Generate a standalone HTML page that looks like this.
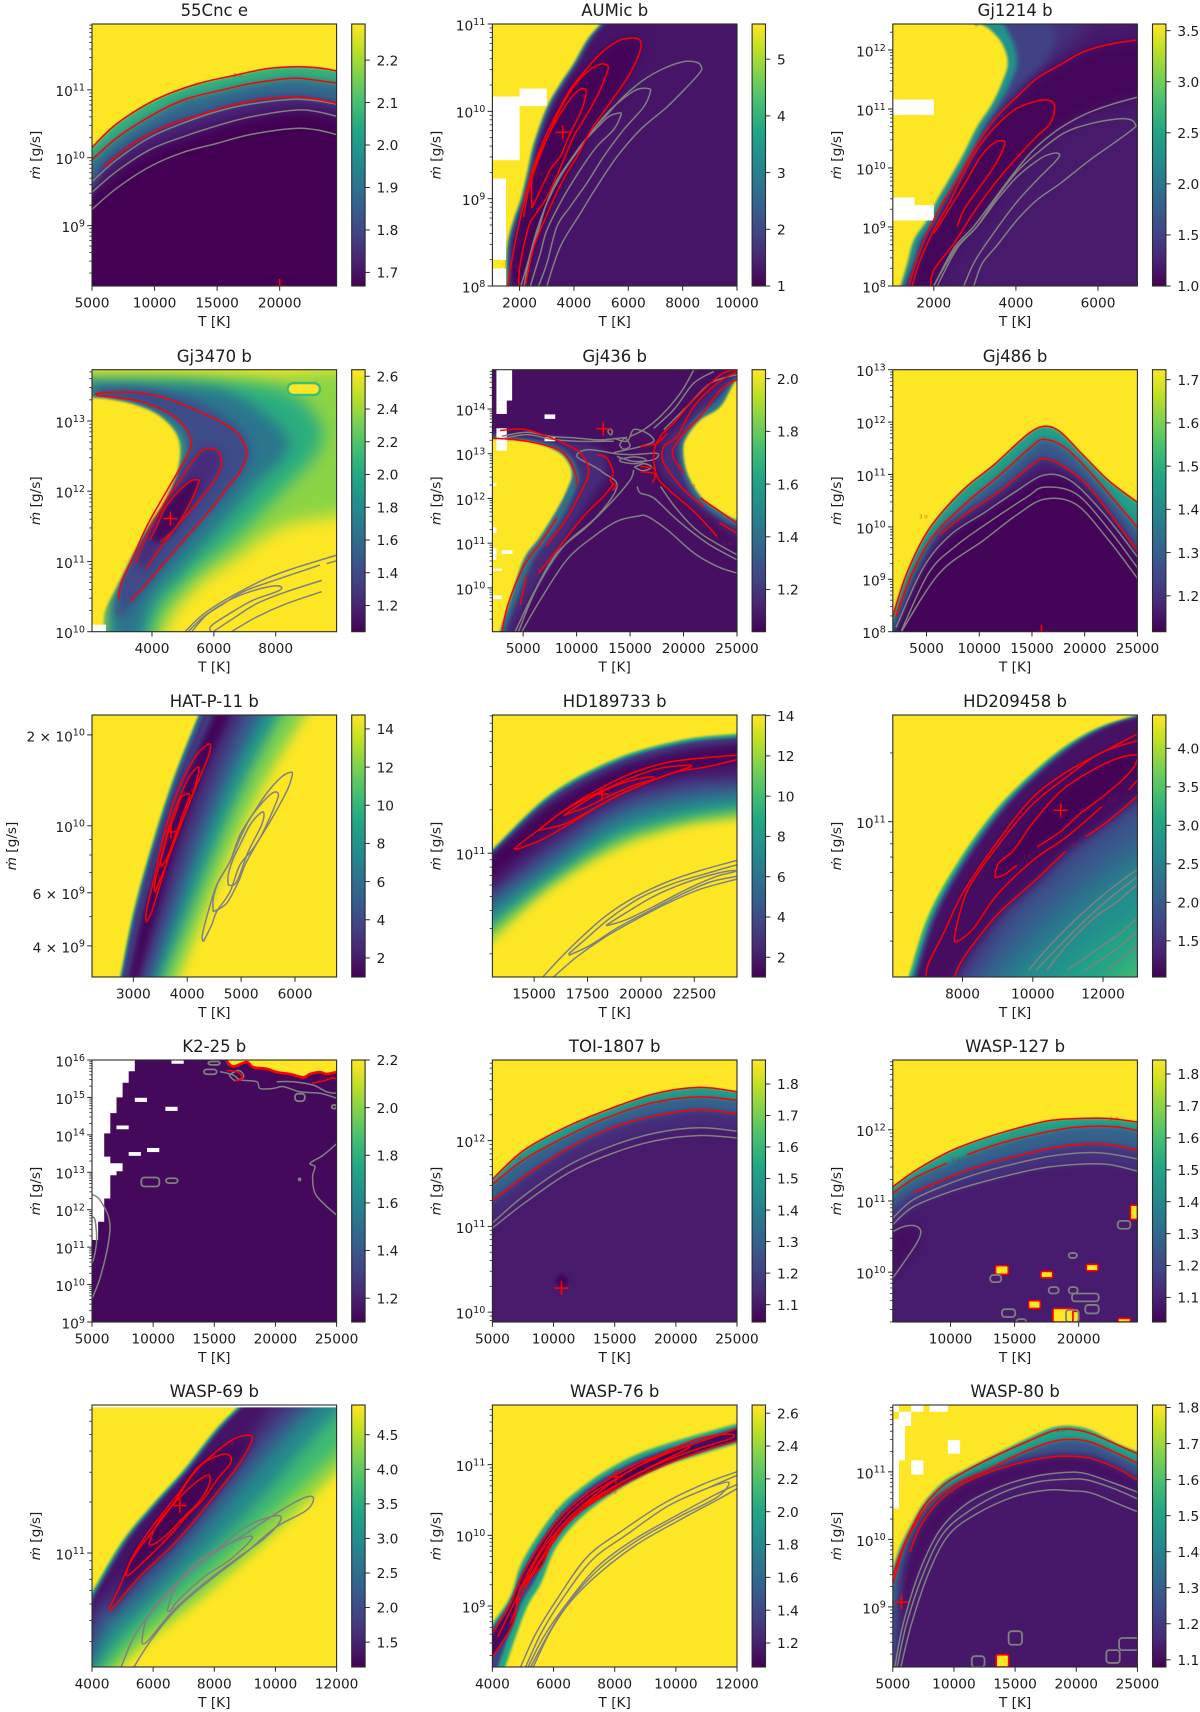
<!DOCTYPE html>
<html lang="en">
<head>
<meta charset="utf-8">
<title>Mass-loss rate vs temperature grid</title>
<style>
html,body{margin:0;padding:0;background:#fff}
svg{display:block}
text{font-family:"DejaVu Sans","Liberation Sans",sans-serif;fill:#1c1c1c}
</style>
</head>
<body>
<svg id="fig" xmlns="http://www.w3.org/2000/svg" width="1200" height="1712" viewBox="0 0 1200 1712"></svg>
<script>
// ---------- shape helpers (closure type only, no data generated) ----------
function under(pts,dT){return {mode:'under',pts:pts,dT:dT||0};}
function over(pts,dT){return {mode:'over',pts:pts,dT:dT||0};}
function poly(pts){return {mode:'poly',pts:pts,dT:0};}
function band(a,b){return {mode:'band',pts:a,pts2:b,dT:0};}
function loop(c){return c.concat([c[0]]);}
function zipT(ts,ls){return ts.map(function(t,i){return [t,ls[i]];});}

// ---------- 55Cnc e ----------
const cncX=[5000,24550],cncY=[8.11,11.97],cncV=[1.668,2.285];
const cncXT=[5000,10000,15000,20000];
const cncYT=[[1,11],[1,10],[1,9]];
const cncCT=[2.2,2.1,2.0,1.9,1.8,1.7];
const cncR3=[[5000,10.15],[6700,10.46],[8840,10.73],[10970,10.93],[13630,11.10],[16300,11.21],[18960,11.31],[21360,11.34],[23220,11.32],[24550,11.28]];
const cncR2=[[5000,9.97],[6970,10.29],[9640,10.61],[12300,10.85],[14960,10.98],[17630,11.09],[20290,11.16],[21620,11.17],[24550,11.10]];
const cncR1=[[5960,9.87],[8300,10.21],[10970,10.47],[13630,10.63],[16300,10.78],[18960,10.87],[21090,10.89],[22960,10.86],[24550,10.80]];
const cncR1Fill=[[5000,9.45]].concat(cncR1);
const cncG1=[[5000,9.65],[6970,9.97],[9640,10.30],[12300,10.51],[14960,10.68],[17630,10.79],[21090,10.86],[22960,10.84],[24550,10.79]];
const cncG2=[[5000,9.49],[6970,9.80],[9640,10.12],[12300,10.31],[14960,10.47],[17630,10.60],[21090,10.70],[22960,10.68],[24550,10.61]];
const cncG3=[[5000,9.24],[6970,9.55],[9640,9.87],[12300,10.08],[14960,10.21],[17630,10.34],[21090,10.43],[22960,10.41],[24550,10.34]];
const cncFillV=[2.07,1.87,1.73,1.668];
const cncFillSoft=[1.2,5,4,6];
const cncFillS=[under(cncR3),under(cncR2),under(cncR1Fill),under(cncG2)];
const cncBest=[20000,8.11];
const cncLabels=[[16640,11.22,'3 σ'],[12780,10.84,'2 σ'],[5480,9.73,'1 σ']];

// ---------- AUMic b ----------
const aumX=[1000,10000],aumY=[8,11],aumV=[1,5.62];
const aumXT=[2000,4000,6000,8000,10000];
const aumYT=[[1,11],[1,10],[1,9],[1,8]];
const aumCT=[5,4,3,2,1];
const aumEdge=[[1500,8],[1534,8.45],[1779,8.76],[2025,8.98],[2270,9.29],[2515,9.63],[3006,10.05],[3497,10.32],[3988,10.55],[4479,10.82],[4970,11]];
const aumR3=[[1558,8],[1718,8.30],[1902,8.60],[2209,9.02],[2515,9.37],[3006,9.75],[3497,10.05],[3926,10.28],[4479,10.49],[4970,10.66],[5583,10.80],[6074,10.84],[6417,10.82],[6442,10.70],[6074,10.44],[5583,10.21],[4970,9.94],[4601,9.77],[4110,9.48],[3558,9.19],[2761,8.64],[2454,8.37],[2209,8]];
const aumR2=[[1963,8],[2025,8.26],[2331,8.68],[2515,8.79],[3006,9.02],[3620,9.44],[3988,9.71],[4356,9.90],[4847,10.17],[5215,10.44],[5239,10.52],[4970,10.54],[4479,10.45],[3988,10.28],[3497,10.03],[3067,9.73],[2638,9.40],[2331,9.10],[2147,8.79]];
const aumR1=loop([[2454,8.89],[3129,9.33],[3497,9.48],[3865,9.75],[4233,9.98],[4454,10.21],[4356,10.26],[4049,10.21],[3620,10.03],[3252,9.84],[3006,9.69],[2638,9.44],[2454,9.21]]);
const aumG3=[[3006,8],[3497,8.45],[4233,8.83],[4847,9.14],[5583,9.48],[6442,9.79],[7423,10.05],[8160,10.28],[8650,10.45],[8687,10.51],[8528,10.56],[8037,10.57],[7301,10.49],[6564,10.36],[5828,10.17],[5215,9.96],[4601,9.75],[3988,9.48],[3497,9.25],[3006,8.95],[2638,8.64],[2331,8.30],[2049,8]];
const aumG2=[[2699,8],[3006,8.26],[3374,8.68],[3865,8.91],[4479,9.18],[5092,9.48],[5828,9.79],[6564,10.05],[6810,10.22],[6748,10.26],[6319,10.25],[5828,10.15],[5215,9.98],[4662,9.77],[3988,9.48],[3497,9.25],[3006,8.95],[2699,8.64],[2454,8.37],[2172,8]];
const aumG1=[[2393,8],[2761,8.37],[3006,8.64],[3620,9.02],[4233,9.33],[4847,9.60],[5460,9.79],[5730,9.96],[5644,9.98],[5276,9.94],[4847,9.81],[4356,9.65],[3865,9.44],[3374,9.21],[2945,8.91],[2638,8.60],[2294,8.22],[2172,8]];
const aumFillV=[1.04,1.7,3.0,5.62];
const aumFillSoft=[5,1.5,1.2,1];
const aumFillS=[poly(aumR3),over(aumEdge,200),over(aumEdge,90),over(aumEdge,0)];
const aumWhite=[[1000,9.44,2000,10.17],[2000,10.06,3000,10.26],[1000,8.30,1500,9.23],[1000,8,1500,8.2]];
const aumBest=[3583,9.76];
const aumLabels=[[2700,9.29,'1 σ'],[3130,8.95,'3 σ'],[1780,8.23,'2 σ']];

// ---------- Gj1214 b ----------
const g12X=[1000,6960],g12Y=[8,12.44],g12V=[1,3.565];
const g12XT=[2000,4000,6000];
const g12YT=[[1,12],[1,11],[1,10],[1,9],[1,8]];
const g12CT=[3.5,3.0,2.5,2.0,1.5,1.0];
const g12Edge=[[1189,8],[1351,8.38],[1513,8.78],[1838,9.12],[2081,9.46],[2406,9.85],[2730,10.25],[3055,10.70],[3379,11.04],[3623,11.38],[3801,11.77],[3663,12.11],[3379,12.34],[3136,12.44]];
const g12GlowA=[[1270,8],[1513,8.44],[1675,8.78],[2000,9.12],[2243,9.46],[2568,9.85],[2892,10.25],[3217,10.70],[3542,11.04],[3826,11.38],[4029,11.77],[3947,12.11],[3704,12.44]];
const g12GlowB=[[1351,8],[1594,8.44],[1757,8.78],[2081,9.12],[2325,9.46],[2649,9.85],[2974,10.25],[3339,10.70],[3704,11.04],[4110,11.38],[4677,11.77],[4921,12.11],[4921,12.44]];
const g12GlowC=[[3000,10.7],[4029,11.4],[5000,11.9],[5700,12.44],[5700,13.5],[1500,13.5],[1500,10.7]];
const g12R3=[[1391,8],[1554,8.38],[1838,8.89],[2162,9.34],[2568,9.80],[2974,10.31],[3461,10.81],[4029,11.21],[4515,11.52],[5083,11.75],[5651,11.97],[6300,12.10],[6958,12.17]];
const g12R2=[[1473,8],[1635,8.38],[2000,8.95],[2325,9.34],[2730,9.91],[3055,10.31],[3461,10.67],[3947,10.98],[4434,11.12],[4799,11.15],[4945,11.04],[4840,10.76],[4515,10.54],[4029,10.18],[3501,9.75],[3014,9.29],[2771,9.03],[2487,8.72],[2000,8.27],[1919,8]];
const g12R1=[[2000,8.89],[2406,9.34],[2811,9.80],[3136,10.19],[3461,10.42],[3688,10.46],[3720,10.39],[3542,10.11],[3298,9.85],[3014,9.58],[2730,9.29],[2568,9.01]];
const g12GA=[[2000,8],[2487,8.64],[2974,9.01],[3461,9.46],[3947,9.91],[4434,10.31],[5002,10.64],[5651,10.90],[6300,11.07],[6958,11.20]];
const g12GB=[[2081,8],[2568,8.64],[3055,9.01],[3542,9.51],[4029,9.94],[4515,10.25],[5164,10.59],[5813,10.75],[6463,10.83],[6787,10.82],[6909,10.74],[6868,10.67],[6381,10.42],[5813,10.14],[5083,9.74],[4515,9.46],[4029,9.12],[3542,8.69],[3177,8.38],[2974,8]];
const g12GC=[[2730,8],[3014,8.44],[3542,8.98],[4029,9.43],[4515,9.80],[4921,10.08],[5067,10.22],[4921,10.25],[4596,10.16],[4029,9.85],[3542,9.46],[3055,9.01],[2568,8.67],[2162,8.21],[2000,8]];
const g12FillV=[1.36,1.04,1.5,2.3,3.565];
const g12FillSoft=[9,6,4,2.5,1.2];
const g12FillS=[poly(g12GlowC),band(g12R3,g12GA),over(g12GlowB),over(g12GlowA),over(g12Edge)];
const g12White=[[1000,10.90,2000,11.16],[1000,9.37,1530,9.50],[1000,9.11,2000,9.37]];
const g12Labels=[[2280,9.46,'3']];

// ---------- Gj3470 b ----------
const g34X=[2060,9970],g34Y=[10,13.73],g34V=[1.04,2.64];
const g34XT=[4000,6000,8000];
const g34YT=[[1,13],[1,12],[1,11],[1,10]];
const g34CT=[2.6,2.4,2.2,2.0,1.8,1.6,1.4,1.2];
const g34L25=[[1200,13.65],[4474,13.68],[7708,13.65],[11000,13.58],[11000,11.92],[8247,11.5],[6630,11.02],[5552,10.69],[4474,10.12],[4000,9.3],[2500,9.3],[2426,10.12],[2534,10.36],[2911,10.69],[3396,11.12],[3935,11.54],[4367,11.83],[4798,12.25],[4905,12.63],[4690,12.87],[4151,13.09],[3396,13.23],[2642,13.30],[1200,13.32]];
const g34L22=[[1200,13.58],[5552,13.57],[8247,13.44],[9433,12.97],[9325,12.54],[8247,12.02],[6630,11.31],[5337,10.83],[4151,10.21],[3600,9.3],[2650,9.3],[2534,10.21],[2803,10.55],[3235,10.97],[3774,11.45],[4259,11.78],[4690,12.21],[4798,12.63],[4636,12.82],[4097,13.06],[3342,13.2],[2642,13.28],[1200,13.34]];
const g34L18=[[1200,13.54],[5552,13.49],[7169,13.25],[8355,12.78],[8247,12.49],[7385,12.11],[6091,11.45],[4798,10.83],[3935,10.36],[3300,9.3],[2750,9.3],[2696,10.31],[2965,10.62],[3342,11.02],[3881,11.47],[4367,11.83],[4798,12.21],[4959,12.63],[4690,12.85],[4151,13.04],[3396,13.18],[2642,13.28],[1200,13.35]];
const g34L15=[[2210,13.47],[3935,13.44],[5552,13.25],[6846,12.87],[7115,12.54],[6630,12.11],[5552,11.59],[4474,11.02],[3612,10.55],[3073,10.21],[2803,10.31],[3019,10.64],[3504,11.12],[4043,11.54],[4528,11.92],[5013,12.25],[5250,12.63],[5013,12.92],[4367,13.13],[3396,13.28],[2210,13.35]];
const g34Blob=[[1200,13.33],[2000,13.33],[2642,13.31],[3396,13.24],[4151,13.10],[4690,12.88],[4905,12.63],[4798,12.25],[4367,11.83],[3935,11.54],[3396,11.12],[2911,10.69],[2534,10.36],[2426,10.12],[2400,9.3],[1200,9.3]];
const g34R3=[[2911,10.46],[3019,10.71],[3396,11.07],[3828,11.50],[4367,11.92],[4798,12.25],[5175,12.54],[5250,12.73],[5013,12.94],[4474,13.13],[3612,13.28],[2750,13.34],[2264,13.36],[2232,13.39],[2750,13.41],[3612,13.40],[4474,13.32],[5552,13.13],[6415,12.94],[6846,12.78],[7062,12.54],[6846,12.28],[6415,12.04],[5876,11.73],[5121,11.35],[4474,11.02],[3828,10.69],[3288,10.43]];
const g34R2=[[3806,10.89],[4151,11.12],[4798,11.50],[5552,11.88],[6091,12.21],[6253,12.40],[6145,12.56],[5854,12.61],[5552,12.56],[5175,12.33],[4798,12.09],[4474,11.88],[4097,11.59],[3720,11.26],[3450,10.97]];
const g34R1=[[4280,11.28],[4798,11.50],[5283,11.88],[5498,12.11],[5498,12.16],[5229,12.14],[4798,11.97],[4420,11.76],[4151,11.50],[3935,11.31]];
const g34G1=[[5067,10],[5552,10.21],[6091,10.38],[6846,10.57],[7708,10.76],[8571,10.90],[9972,11.09]];
const g34G2=[[5175,10],[5660,10.21],[6253,10.38],[6954,10.57],[7816,10.71],[9433,10.95]];
const g34G2b=[[9649,10.97],[9972,11.01]];
const g34G3=[[5283,10],[5768,10.24],[6415,10.43],[7169,10.57],[7924,10.65],[8193,10.63],[8032,10.57],[7277,10.45],[6630,10.29],[5930,10.09],[5900,10]];
const g34G4=[[5983,10],[6630,10.19],[7385,10.40],[8355,10.57],[9487,10.73]];
const g34G5=[[6576,10],[7385,10.21],[8355,10.40],[9487,10.57]];
const g34FillV=[2.36,2.04,1.66,1.44,1.40,1.24,1.07,2.64];
const g34FillSoft=[8,8,7,5,3,4,3,1.2];
const g34FillS=[poly(g34L25),poly(g34L22),poly(g34L18),poly(g34L15),poly(g34R3),poly(g34R2),poly(g34R1),poly(g34Blob)];
const g34White=[[2060,10,2510,10.10]];
const g34Rings=[[8385,13.37,9433,13.54]];
const g34Best=[4593,11.61];
const g34Labels=[[3957,11.13,'1 σ'],[3483,10.75,'2 σ'],[2965,10.27,'3 σ']];

// ---------- Gj436 b ----------
const g43X=[2125,25000],g43Y=[9.02,14.88],g43V=[1.04,2.034];
const g43XT=[5000,10000,15000,20000,25000];
const g43YT=[[1,14],[1,13],[1,12],[1,11],[1,10]];
const g43CT=[2.0,1.8,1.6,1.4,1.2];
const g43LY=[[2844,8.6],[2844,9.02],[3781,9.73],[5031,10.63],[6594,11.15],[8156,11.75],[9094,12.19],[9562,12.57],[8781,12.94],[7219,13.16],[5344,13.28],[3469,13.31],[2125,13.33],[1200,13.33],[1200,8.6]];
const g43L14=[[3312,8.6],[3312,9.02],[4406,9.73],[5969,10.63],[7531,11.15],[9094,11.75],[10031,12.27],[10187,12.57],[9250,12.98],[7531,13.22],[5344,13.33],[2125,13.40],[1200,13.40],[1200,8.6]];
const g43L12=[[4094,8.6],[4094,9.02],[5500,9.73],[8156,10.78],[11281,11.97],[12844,12.57],[12219,13.09],[9094,13.31],[5344,13.39],[2125,13.46],[1200,13.46],[1200,8.6]];
const g43RY=[[26500,14.66],[25000,14.66],[23469,14.06],[21594,13.76],[20344,13.39],[19969,13.09],[20344,12.57],[21594,12.05],[23156,11.75],[25000,11.52],[26500,11.52]];
const g43R14=[[26500,14.73],[25000,14.73],[23156,14.21],[21281,13.84],[20031,13.46],[19562,13.09],[20031,12.49],[21281,11.97],[23156,11.60],[25000,11.37],[26500,11.37]];
const g43R12=[[26500,14.84],[25000,14.84],[22531,14.43],[20031,13.76],[18156,13.31],[17844,12.64],[20031,12.05],[23156,11.49],[25000,11.15],[26500,11.15]];
const g43Red1=[[3000,9.02],[3625,9.66],[5031,10.48],[6594,11],[8156,11.56]];
const g43Red2=[[4719,9.62],[5344,10.29]];
const g43Red3=[[7156,10.94],[8781,11.45],[10031,11.97],[11125,12.57],[10500,12.98],[9094,13.20],[7219,13.39],[5031,13.55],[2844,13.52]];
const g43Red4=[[2125,13.35],[4406,13.31],[6906,13.20],[8781,13.01],[9875,12.57],[9969,12.27]];
const g43Red5=[[6437,10.33],[8156,10.85],[10656,11.60],[12531,12.05],[13469,12.34]];
const g43Red6=[[25000,11.45],[23156,11.75],[21594,12.01]];
const g43Red7=[[20031,12.57],[18937,13.01],[20031,13.46],[21594,13.84],[23469,14.43],[25000,14.66]];
const g43Red8=[[25000,11.22],[23312,11.46]];
const g43Red9=[[21906,11.82],[20031,12.19],[18156,12.79],[18156,13.16],[19406,13.39],[20969,14.06],[23156,14.58],[25000,14.84]];
const g43Red10=[[23156,11.15],[20969,11.71],[18781,12.16],[17531,12.49],[17219,13.01],[17844,13.39],[19094,13.69],[20656,14.13],[23469,14.77],[25000,14.87]];
const g43Red11=[[13469,12.57],[12844,12.9],[11906,12.98]];
const g43Red12=[[15969,12.72],[17219,12.68]];
const g43Red13=[[15969,13.16],[17531,13.24],[18469,13.46]];
const g43Red14=[[13500,12.55],[13150,12.4],[13700,12.28],[13300,12.18]];
const g43Red15=[[16000,12.6],[17300,12.55],[17100,12.35]];
const g43Gr1=[[4875,9.02],[6594,9.73],[9094,10.63],[11594,11.15],[13781,11.49],[15656,11.6],[16594,11.6],[18469,11.30],[20969,10.78],[23156,10.48],[25000,10.33]];
const g43Gr2=[[4250,9.02],[5969,9.88],[8156,10.78],[10969,11.37],[13469,11.97],[15031,12.42],[15344,12.64]];
const g43Gr3=[[15656,12.27],[15969,12.12],[17219,12.01],[19406,11.52],[22219,11],[25000,10.63]];
const g43Gr4=[[4562,9.02],[6281,10],[8781,10.93],[11906,11.6],[13781,12.27],[12531,12.57],[11594,12.72],[10031,12.94],[10969,13.09],[13469,13.01]];
const g43Gr5=[[17844,12.27],[19406,11.75],[21594,11.22],[25000,10.74]];
const g43Gr6=[[3000,13.39],[5344,13.48],[7531,13.39],[10031,13.35],[12219,13.31],[14719,13.37]];
const g43Gr7=[[3000,13.33],[5344,13.43],[7531,13.33],[10031,13.28],[13469,13.28]];
const g43Gr8=[[20969,14.88],[19719,14.36],[17844,13.84],[16281,13.54],[15031,13.39]];
const g43Gr9=[[22844,14.84],[20969,14.58],[19094,13.99],[17219,13.57]];
const g43Gr10=[[25000,14.77],[22531,14.58],[20344,14.06],[18156,13.54]];
const g43Gr11=[[13469,13.35],[14719,13.28],[15344,13.54],[16594,13.46],[17219,13.28],[15969,13.16],[14719,13.09],[13469,13.01],[15344,12.98],[17531,13.01],[17219,12.87],[15344,12.83],[13781,12.94]];
const g43Gr12=loop([[14000,12.88],[15500,12.93],[16500,12.86],[15500,12.78],[14200,12.82]]);
const g43Gr13=loop([[15400,12.7],[16300,12.78],[17000,12.7],[16200,12.62]]);
const g43Gr14=loop([[14000,13.2],[14500,13.35],[15000,13.18],[14400,13.1]]);
const g43Gr15=loop([[12900,13.5],[13200,13.42],[13350,13.5],[13100,13.56]]);
const g43FillV=[1.16,1.16,1.42,1.42,2.034,2.034];
const g43FillSoft=[4,4,2,2,1,1];
const g43FillS=[poly(g43L12),poly(g43R12),poly(g43L14),poly(g43R14),poly(g43LY),poly(g43RY)];
const g43White=[[2500,14.19,3969,14.88],[2500,13.89,3470,14.19],[2500,13.07,3470,13.57],[7000,13.78,8000,13.88],[7000,13.28,8000,13.37],[2125,12.28,2500,12.34],[2125,11.22,2500,11.36],[2125,10.63,2500,10.89],[3000,10.76,4000,10.84],[2125,10.38,3000,10.43],[2125,9.75,3000,9.83]];
const g43Best=[12500,13.56];
const g43Labels=[[5200,13.39,'2 σ'],[9030,11.86,'3 σ'],[6219,10.65,'2 σ'],[20700,12.29,'3 σ'],[22375,11.63,'2 σ'],[24100,11,'1 σ']];

// ---------- Gj486 b ----------
const g48X=[1800,25000],g48Y=[8,13],g48V=[1.117,1.723];
const g48XT=[5000,10000,15000,20000,25000];
const g48YT=[[1,13],[1,12],[1,11],[1,10],[1,9],[1,8]];
const g48CT=[1.7,1.6,1.5,1.4,1.3,1.2];
const g48R3=[[1800,8.29],[3135,9.12],[5207,9.95],[8315,10.68],[11423,11.19],[14531,11.76],[16189,11.92],[17639,11.82],[19711,11.40],[22301,10.88],[25000,10.47]];
const g48R2=[[2100,8.29],[3653,9.12],[5725,9.85],[8833,10.47],[11941,10.99],[15049,11.55],[16189,11.67],[18157,11.51],[20747,10.99],[25000,9.99]];
const g48R1=[[6243,9.85],[8833,10.26],[11941,10.68],[15049,11.19],[16189,11.30],[18157,11.13],[20747,10.68],[25000,9.54]];
const g48R1Fill=[[2500,8],[4200,9.0]].concat(g48R1);
const g48G1=[[2100,8.08],[4689,9.22],[7279,9.85],[10387,10.26],[13495,10.68],[16189,10.99],[18675,10.88],[21783,10.26],[25000,9.43]];
const g48G2=[[2617,8.02],[5207,9.12],[7797,9.64],[11423,10.16],[14531,10.57],[16189,10.76],[19193,10.63],[22301,9.95],[25000,9.22]];
const g48G3=[[2617,8],[6243,9.12],[10387,9.74],[13495,10.22],[16189,10.53],[19193,10.43],[22301,9.74],[25000,9.02]];
const g48FillV=[1.46,1.28,1.17,1.122];
const g48FillSoft=[1.2,4,4,5];
const g48FillS=[under(g48R3),under(g48R2),under(g48R1Fill),under(g48G1)];
const g48Best=[15900,8];
const g48Labels=[[4700,10.2,'3 σ']];

// ---------- HAT-P-11 b ----------
const hatX=[2233,6772],hatY=[9.499,10.367],hatV=[1,14.73];
const hatXT=[3000,4000,5000,6000];
const hatYT=[[2,10],[1,10],[6,9],[4,9]];
const hatCT=[14,12,10,8,6,4,2];
const hatLogs=[9.499,9.715,9.936,10.157,10.367];
const hatLY=[2753,3000,3340,3742,4205];
const hatL125=[2765,3019,3358,3760,4224], hatR125=[3834,4329,4854,5472,6183];
const hatL9=[2784,3037,3383,3791,4267], hatR9=[3556,4050,4545,5101,5719];
const hatL6=[2815,3074,3420,3834,4310], hatR6=[3371,3803,4267,4792,5379];
const hatL35=[2864,3124,3482,3896,4390], hatR35=[3216,3618,4050,4545,5070];
const hatL18=[2938,3198,3569,3989,4514], hatR18=[3093,3463,3834,4298,4823];
const hatL11=[2969,3247,3618,4038,4557], hatR11=[3031,3371,3729,4174,4700];
const hatFillV=[12,8,5,3,1.5,1.05,2.6,5,9,14.73];
const hatFillSoft=[6,6,5,5,4,3,1.5,1.2,1.2,1];
const hatFillS=[
 band(zipT(hatL125,hatLogs),zipT(hatR125,hatLogs)),
 band(zipT(hatL9,hatLogs),zipT(hatR9,hatLogs)),
 band(zipT(hatL6,hatLogs),zipT(hatR6,hatLogs)),
 band(zipT(hatL35,hatLogs),zipT(hatR35,hatLogs)),
 band(zipT(hatL18,hatLogs),zipT(hatR18,hatLogs)),
 band(zipT(hatL11,hatLogs),zipT(hatR11,hatLogs)),
 over(zipT(hatL35,hatLogs)),over(zipT(hatL6,hatLogs)),over(zipT(hatL125,hatLogs)),over(zipT(hatLY,hatLogs))];
const hatR3=loop([[3247,9.682],[3340,9.715],[3494,9.803],[3680,9.914],[3927,10.024],[4174,10.135],[4390,10.229],[4434,10.267],[4360,10.267],[4174,10.234],[3958,10.168],[3773,10.091],[3618,10.002],[3494,9.914],[3371,9.814],[3278,9.748],[3229,9.699]]);
const hatR2=loop([[3402,9.781],[3556,9.848],[3742,9.936],[3927,10.024],[4112,10.113],[4217,10.184],[4174,10.192],[4020,10.157],[3865,10.096],[3711,10.024],[3587,9.947],[3482,9.870],[3389,9.803]]);
const hatR1=loop([[3525,9.864],[3649,9.903],[3803,9.980],[3958,10.057],[4050,10.102],[3896,10.096],[3773,10.036],[3649,9.980],[3556,9.914],[3507,9.881]]);
const hatG3=loop([[4298,9.616],[4452,9.671],[4545,9.715],[4792,9.781],[4978,9.870],[5225,9.925],[5534,10.013],[5843,10.113],[5948,10.168],[5905,10.177],[5719,10.157],[5472,10.107],[5225,10.041],[4978,9.969],[4792,9.881],[4545,9.803],[4390,9.715],[4279,9.638]]);
const hatG2=loop([[4483,9.715],[4730,9.743],[4947,9.814],[5101,9.881],[5410,9.980],[5657,10.080],[5688,10.107],[5596,10.110],[5410,10.080],[5163,10.024],[4978,9.958],[4792,9.881],[4576,9.814],[4483,9.759]]);
const hatG1=loop([[4761,9.803],[4916,9.814],[5132,9.914],[5379,10.002],[5423,10.041],[5348,10.041],[5163,10.002],[5008,9.947],[4854,9.891],[4761,9.837]]);
const hatBest=[3698,9.98];
const hatLabels=[[3980,10.11,'3 σ'],[3520,9.83,'3 σ']];

// ---------- HD189733 b ----------
const h18X=[13047,24500],h18Y=[10.14,11.96],h18V=[1.02,14.03];
const h18XT=[15000,17500,20000,22500];
const h18YT=[[1,11]];
const h18CT=[14,12,10,8,6,4,2];
const h18Nodes=[13047,15750,18875,22000,24500];
const h18U135=[11.03,11.41,11.66,11.79,11.83], h18D135=[10.39,10.76,11.03,11.19,11.24];
const h18U11=[11.03,11.40,11.65,11.78,11.82], h18D11=[10.48,10.80,11.09,11.23,11.29];
const h18U75=[11.02,11.39,11.64,11.77,11.81], h18D75=[10.57,10.87,11.17,11.31,11.36];
const h18U45=[11.01,11.38,11.63,11.76,11.80], h18D45=[10.68,10.96,11.28,11.41,11.45];
const h18U25=[11.00,11.36,11.61,11.74,11.78], h18D25=[10.75,11.06,11.36,11.50,11.52];
const h18U12=[10.99,11.32,11.57,11.69,11.74], h18D12=[10.84,11.17,11.45,11.57,11.63];
const h18FillV=[12,8.5,6,3.5,2,1.1,2.6,5,9,14.03];
const h18FillSoft=[5,6,6,6,5,5,2,1.5,1.2,1];
const h18FillS=[
 band(zipT(h18Nodes,h18U135),zipT(h18Nodes,h18D135)),
 band(zipT(h18Nodes,h18U11),zipT(h18Nodes,h18D11)),
 band(zipT(h18Nodes,h18U75),zipT(h18Nodes,h18D75)),
 band(zipT(h18Nodes,h18U45),zipT(h18Nodes,h18D45)),
 band(zipT(h18Nodes,h18U25),zipT(h18Nodes,h18D25)),
 band(zipT(h18Nodes,h18U12),zipT(h18Nodes,h18D12)),
 over(zipT(h18Nodes,h18U25)),over(zipT(h18Nodes,h18U45)),over(zipT(h18Nodes,h18U75)),over(zipT(h18Nodes,h18U135))];
const h18R3=[[24500,11.68],[22781,11.66],[21219,11.63],[19656,11.56],[18094,11.45],[16531,11.31],[15281,11.17],[14219,11.05],[14219,11.03],[15438,11.10],[16844,11.22],[18406,11.36],[19969,11.47],[21531,11.56],[23094,11.60],[24500,11.65]];
const h18R2=loop([[15203,11.16],[16063,11.26],[17156,11.36],[18406,11.45],[19656,11.53],[20906,11.59],[22156,11.61],[22313,11.60],[21531,11.56],[20281,11.49],[19031,11.41],[17781,11.31],[16531,11.21],[15594,11.17]]);
const h18R1=loop([[16375,11.26],[17156,11.34],[18094,11.42],[19188,11.49],[20438,11.53],[20516,11.51],[19656,11.47],[18406,11.39],[17469,11.32],[16688,11.28]]);
const h18G1=[[15406,10.14],[16219,10.27],[17313,10.43],[18406,10.57],[19656,10.69],[21219,10.80],[22781,10.88],[24500,10.95]];
const h18G2=[[16609,10.30],[17469,10.41],[18563,10.55],[19969,10.69],[21531,10.79],[23094,10.86],[24500,10.92]];
const h18G2b=[[16609,10.29],[17625,10.36],[18875,10.48],[20281,10.59],[21844,10.71],[23250,10.80],[24500,10.84]];
const h18G3=loop([[18375,10.50],[19344,10.59],[20594,10.70],[21999,10.79],[23563,10.86],[24344,10.88],[24344,10.87],[23563,10.84],[22156,10.75],[20594,10.63],[19344,10.54],[18484,10.50]]);
const h18G4=[[15906,10.14],[17000,10.28],[18250,10.41],[19656,10.53],[21219,10.65],[22781,10.75],[24500,10.82]];
const h18Best=[18172,11.41];
const h18Labels=[[16000,11.18,'3 σ'],[17000,11.3,'2 σ'],[18700,11.41,'1 σ']];

// ---------- HD209458 b ----------
const h20X=[6015,12978],h20Y=[10.32,11.467],h20V=[1.03,4.433];
const h20XT=[8000,10000,12000];
const h20YT=[[1,11]];
const h20CT=[4.0,3.5,3.0,2.5,2.0,1.5];
const h20Edge=[[6461,10.32],[7031,10.591],[7934,10.839],[8979,11.058],[10024,11.219],[10974,11.336],[11924,11.416],[12978,11.467]];
const h20L15=[[7744,10.32],[9074,10.606],[10024,10.737],[10974,10.898],[11924,11.015],[12978,11.117]];
const h20L18=[[8314,10.32],[9454,10.577],[10499,10.737],[11544,10.883],[12978,11.044]];
const h20L22=[[8694,10.32],[9929,10.533],[10974,10.679],[12114,10.825],[12978,10.912]];
const h20L26=[[9454,10.32],[10594,10.489],[11734,10.65],[12978,10.796]];
const h20L30=[[10784,10.32],[11639,10.445],[12978,10.591]];
const h20L33=[[12209,10.32],[12978,10.431]];
const h20R3a=[[6955,10.32],[7031,10.38],[7459,10.511],[8029,10.693],[9026,10.919],[9976,11.102],[10974,11.219],[12114,11.314],[12978,11.384]];
const h20R3b=[[7772,10.32],[8029,10.404],[8979,10.591],[10024,10.737],[10926,10.869]];
const h20R3c=[[11496,10.934],[12114,10.999],[12978,11.112]];
const h20R3Fill=h20R3b.concat(h20R3c);
const h20R2a=[[7763,10.489],[7934,10.606],[8219,10.721],[9026,10.899],[9976,11.073],[10974,11.197],[11924,11.30],[12978,11.355]];
const h20R2b=[[7763,10.489],[7838,10.474],[8314,10.533],[8979,10.679],[10024,10.833],[10974,10.934],[11971,11.066]];
const h20R2c=[[12731,11.139],[12978,11.182]];
const h20R1=[[8912,10.755],[9026,10.818],[9454,10.876],[10024,11.0],[10784,11.131],[11544,11.212],[12399,11.277],[12921,11.292],[12978,11.274],[12779,11.219],[12114,11.124],[11354,11.036],[10784,10.956],[10119,10.89]];
const h20R1b=[[9549,10.81],[9169,10.766],[8912,10.755]];
const h20G1=[[9881,10.35],[10499,10.46],[11259,10.577],[12114,10.693],[12978,10.792]];
const h20G2=[[10100,10.35],[10689,10.445],[11544,10.577],[12304,10.679],[12978,10.759]];
const h20G3=[[10404,10.35],[10974,10.46],[11734,10.577],[12399,10.65],[12978,10.726]];
const h20G4=[[10974,10.35],[11734,10.431],[12494,10.511],[12978,10.58]];
const h20G5=[[11496,10.35],[12209,10.423],[12978,10.518]];
const h20G6=[[12095,10.35],[12494,10.394],[12978,10.46]];
const h20FillV=[3.1,1.9,1.2,1.7,1.95,2.3,2.7,3.0,3.3,1.14,1.04];
const h20FillSoft=[1,1,1.5,8,8,8,8,8,8,5,5];
const h20FillS=[under(h20Edge,0),under(h20Edge,120),under(h20Edge,230),under(h20L15),under(h20L18),under(h20L22),under(h20L26),under(h20L30),under(h20L33),band(h20R3a,h20R3Fill),poly(h20R1)];
const h20Best=[10793,11.05];
const h20Labels=[[12446,11.35,'3 σ'],[12256,11.10,'2 σ'],[11211,10.90,'3 σ'],[9834,10.85,'1 σ']];

// ---------- K2-25 b ----------
const k2X=[5000,25000],k2Y=[9,16],k2V=[1.10,2.2];
const k2XT=[5000,10000,15000,20000,25000];
const k2YT=[[1,16],[1,15],[1,14],[1,13],[1,12],[1,11],[1,10],[1,9]];
const k2CT=[2.2,2.0,1.8,1.6,1.4,1.2];
const k2Yellow=[[16009,16.8],[16009,16],[16554,15.84],[17644,15.96],[18189,15.82],[19279,15.78],[20097,15.69],[21187,15.64],[22277,15.55],[22822,15.64],[23639,15.69],[24184,15.64],[25000,15.69],[27000,15.69],[27000,16.8]];
const k2FillV=[2.2];
const k2FillSoft=[0.8];
const k2FillS=[poly(k2Yellow)];
const k2WhitePoly=[[5000,16],[8500,16],[8500,15.70],[8000,15.70],[8000,15.39],[7500,15.39],[7500,15.0],[7000,15.0],[7000,14.58],[6500,14.58],[6500,14.04],[6000,14.04],[6000,13.42],[6500,13.42],[6500,13.24],[7500,13.24],[7500,13.03],[7000,13.03],[7000,12.92],[6500,12.92],[6500,12.30],[6000,12.30],[6000,11.68],[5500,11.68],[5500,11.19],[5000,11.19]];
const k2White=[[8500,14.88,9500,14.99],[11000,14.64,12000,14.75],[7000,14.15,8000,14.25],[9500,13.54,10500,13.65],[8000,13.44,9000,13.54],[11500,15.9,12500,16]];
const k2RedEdge=[[16009,16],[16554,15.84],[17644,15.96],[18189,15.82],[19279,15.78],[20097,15.69],[21187,15.64],[22277,15.55],[22822,15.64],[23639,15.69],[24184,15.64],[25000,15.69]];
const k2RedEdge2=[[16009,15.97],[16554,15.81],[17644,15.93],[18189,15.79],[19279,15.75],[20097,15.66],[21187,15.61],[22277,15.52],[22822,15.61],[23639,15.66],[24184,15.61],[25000,15.66]];
const k2RedBits=[[16000,15.72],[16900,15.68],[17300,15.5],[16700,15.45]];
const k2RedBits2=[[23000,15.38],[24000,15.45],[24600,15.52],[25000,15.5]];
const k2G1=[[25000,13.76],[23912,13.46],[22822,13.24],[23230,13.15],[23040,12.88],[23230,12.44],[24048,12.13],[25000,11.86]];
const k2G2=[[5000,12.41],[5654,12.26],[6417,11.73],[6335,11.10],[5654,10.17],[5000,9.63]];
const k2G3=[[5000,11.81],[5245,11.73],[5381,11.19],[5190,10.75],[5000,10.57]];
const k2G4=[[15464,15.69],[16554,15.6],[17099,15.47],[18461,15.42],[18734,15.24],[19824,15.24],[20642,15.29],[22004,15.15],[23639,15.11],[25000,14.98]];
const k2G5=[[25000,15.11],[24184,15.15],[23094,15.33],[21459,15.42],[20097,15.42]];
const k2G6=loop([[16200,15.6],[17000,15.72],[17400,15.55],[16700,15.45]]);
const k2GraySpots=[[9033,12.62,10505,12.86],[11050,12.71,12003,12.84],[14510,15.87,15464,15.96],[14156,15.62,15192,15.75],[21600,14.9,22400,15.1],[24600,14.7,25000,14.8],[21900,12.78,22050,12.84]];

// ---------- TOI-1807 b ----------
const toiX=[5000,25000],toiY=[9.885,12.94],toiV=[1.045,1.876];
const toiXT=[5000,10000,15000,20000,25000];
const toiYT=[[1,12],[1,11],[1,10]];
const toiCT=[1.8,1.7,1.6,1.5,1.4,1.3,1.2,1.1];
const toiR3=[[5000,11.55],[7600,11.89],[11190,12.17],[14780,12.38],[18370,12.55],[21950,12.62],[25000,12.57]];
const toiR2=[[5000,11.49],[7600,11.78],[11190,12.06],[14780,12.29],[18370,12.45],[21950,12.51],[25000,12.47]];
const toiR1=[[5000,11.30],[7600,11.58],[11190,11.91],[14780,12.15],[18370,12.29],[21950,12.36],[25000,12.31]];
const toiG1=[[5000,11.04],[7600,11.36],[11190,11.71],[14780,11.94],[18370,12.09],[21950,12.15],[25000,12.11]];
const toiG2=[[5000,10.98],[7600,11.27],[11190,11.62],[14780,11.85],[18370,12.0],[21950,12.06],[25000,12.03]];
const toiSpot=loop([[10100,10.37],[10650,10.44],[11200,10.37],[10650,10.30]]);
const toiFillV=[1.5,1.3,1.15,1.105,1.05];
const toiFillSoft=[1,2.5,3.5,4,1.2];
const toiFillS=[under(toiR3),under(toiR2),under(toiR1),under(toiG1),poly(toiSpot)];
const toiBest=[10650,10.28];
const toiLabels=[[7000,11.8,'3 σ'],[19000,12.45,'2 σ']];

// ---------- WASP-127 b ----------
const w12X=[5495,24583],w12Y=[9.30,12.98],w12V=[1.023,1.844];
const w12XT=[10000,15000,20000];
const w12YT=[[1,12],[1,11],[1,10]];
const w12CT=[1.8,1.7,1.6,1.5,1.4,1.3,1.2,1.1];
const w12R3=[[5495,11.20],[7370,11.44],[9974,11.70],[12578,11.88],[15182,12.02],[17786,12.13],[20390,12.16],[22213,12.16],[24583,12.11]];
const w12R2=[[5495,11.11],[7370,11.34],[9714,11.53]];
const w12R2b=[[11276,11.65],[13880,11.81],[16484,11.93],[19088,12.02],[21171,12.05],[22994,12.04],[24583,11.99]];
const w12R2Fill=w12R2.concat(w12R2b);
const w12R1=[[7110,11.12],[9974,11.34],[12578,11.51],[15182,11.63],[17786,11.74],[20390,11.80],[22473,11.79],[24583,11.71]];
const w12R1Fill=[[5495,10.9]].concat(w12R1);
const w12G1=[[5495,10.76],[7110,11.02],[9974,11.25],[12578,11.41],[15182,11.53],[17786,11.63],[20650,11.68],[22473,11.66],[24583,11.59]];
const w12G2=[[5495,10.67],[7110,10.92],[9974,11.13],[12578,11.27],[15182,11.39],[17786,11.48],[20650,11.52],[22473,11.51],[24583,11.42]];
const w12Loop=[[5495,9.92],[6328,10.13],[7370,10.41],[7682,10.57],[7240,10.65],[6328,10.64],[5495,10.57]];
const w12FillV=[1.5,1.28,1.14,1.085,1.05];
const w12FillSoft=[1,3,4,4,6];
const w12FillS=[under(w12R3),under(w12R2Fill),under(w12R1Fill),under(w12G2),poly(w12Loop)];
const w12Yellow=[[13515,9.97,14505,10.09],[17057,9.92,17968,10.01],[20598,10.02,21510,10.11],[16093,9.49,17005,9.60],[17994,9.30,19557,9.49],[19557,9.30,20000,9.45],[24036,10.74,24583,10.94],[23072,9.30,24036,9.35]];
const w12GraySpots=[[23046,10.61,24036,10.72],[19218,10.20,19869,10.27],[17656,9.70,18437,9.79],[19218,9.70,19921,9.79],[13099,9.86,13958,9.96],[19479,9.59,21562,9.70],[20520,9.42,21562,9.54],[14010,9.37,15052,9.48],[15130,9.26,15911,9.34],[19010,9.30,20000,9.47]];
const w12Labels=[[22734,12.16,'3 σ'],[10417,11.58,'2 σ'],[6250,11.07,'1 σ']];

// ---------- WASP-69 b ----------
const w69X=[4000,12000],w69Y=[10.327,11.874],w69V=[1.14,4.93];
const w69XT=[4000,6000,8000,10000,12000];
const w69YT=[[1,11]];
const w69CT=[4.5,4.0,3.5,3.0,2.5,2.0,1.5];
const w69V45=[[4902,10.327],[5987,10.50],[7657,10.74],[9327,11.006],[10997,11.29],[12166,11.51]];
const w69V40=[[4568,10.327],[5486,10.5],[7156,10.76],[8826,11.035],[10496,11.33],[12000,11.587],[13000,11.74]];
const w69V33=[[4150,10.327],[4985,10.52],[6488,10.78],[7991,11.035],[9661,11.35],[11164,11.665],[12000,11.82]];
const w69V25=[[4000,10.41],[4484,10.56],[5987,10.82],[7323,11.07],[8826,11.39],[10329,11.70],[11164,11.86]];
const w69V18=[[4000,10.54],[4317,10.66],[5653,10.90],[6822,11.13],[8325,11.43],[9828,11.74],[10496,11.86]];
const w69V14=[[4000,10.66],[4985,10.86],[6321,11.13],[7991,11.47],[9327,11.74],[9745,11.86]];
const w69Edge=[[4000,10.77],[4985,11.07],[5987,11.29],[6989,11.49],[7991,11.72],[8743,11.86]];
const w69R3=loop([[4551,10.67],[4902,10.80],[5319,10.967],[5987,11.13],[6655,11.29],[7323,11.47],[7991,11.587],[8659,11.675],[9160,11.695],[9210,11.655],[8826,11.53],[8325,11.41],[7657,11.26],[7156,11.15],[6572,11.035],[5653,10.878],[5069,10.76],[4651,10.67]]);
const w69R2=loop([[5102,10.868],[5319,10.976],[5987,11.16],[6822,11.35],[7490,11.51],[8158,11.577],[8492,11.577],[8526,11.53],[8075,11.43],[7657,11.32],[7156,11.23],[6488,11.09],[5737,10.957],[5236,10.874]]);
const w69R1=loop([[5854,11.05],[6154,11.18],[6822,11.32],[7490,11.43],[7824,11.46],[7824,11.40],[7490,11.30],[6989,11.21],[6405,11.10],[5987,11.05]]);
const w69G3=[[4952,10.327],[5486,10.54],[6488,10.76],[7657,10.957],[8993,11.11],[10162,11.25],[10997,11.33],[11248,11.32],[10997,11.25],[9995,11.15],[8993,10.996],[7991,10.858],[6822,10.68],[5987,10.50],[5369,10.327]];
const w69G2=loop([[5620,10.47],[5820,10.62],[6655,10.80],[7824,10.976],[8993,11.15],[9995,11.22],[10162,11.19],[9661,11.09],[8659,10.957],[7657,10.82],[6655,10.66],[5820,10.48]]);
const w69G1=loop([[6455,10.66],[6739,10.80],[7490,10.957],[8492,11.055],[9160,11.10],[9160,11.07],[8492,10.957],[7657,10.858],[6822,10.72],[6572,10.66]]);
const w69FillV=[4.35,3.75,2.9,2.1,1.6,1.35,1.26,1.18,2.1,3.4,4.93];
const w69FillSoft=[5,7,7,7,6,5,4,4,1.5,1.2,1];
const w69FillS=[over(w69V45),over(w69V40),over(w69V33),over(w69V25),over(w69V18),over(w69V14),poly(w69R3),poly(w69R2),over(w69Edge,160),over(w69Edge,80),over(w69Edge,0)];
const w69White=[[4000,11.86,12000,11.9]];
const w69Best=[6872,11.28];
const w69Labels=[[8490,11.65,'3 σ'],[7200,11.43,'2 σ'],[6150,11.18,'1 σ']];

// ---------- WASP-76 b ----------
const w76X=[4000,12000],w76Y=[8.137,11.844],w76V=[1.054,2.65];
const w76XT=[4000,6000,8000,10000,12000];
const w76YT=[[1,11],[1,10],[1,9]];
const w76CT=[2.6,2.4,2.2,2.0,1.8,1.6,1.4,1.2];
const w76Up=[[4000,8.75],[4585,9.13],[5002,9.65],[6004,10.31],[6923,10.68],[7925,10.97],[8927,11.18],[10263,11.37],[12000,11.58]];
const w76Low=[[4418,8.137],[5086,8.94],[5587,9.32],[6088,9.83],[6923,10.26],[8259,10.68],[9595,10.97],[10931,11.16],[12000,11.30]];
const w76Up2=[[4000,8.68],[4585,9.07],[5086,9.58],[6088,10.24],[7006,10.63],[8008,10.91],[9010,11.12],[10346,11.31],[12000,11.52]];
const w76Low2=[[4167,8.137],[4919,9.01],[5420,9.39],[5921,9.91],[6756,10.33],[8092,10.74],[9428,11.02],[10764,11.21],[12000,11.35]];
const w76R3a=[[4000,8.61],[4585,9.03],[5086,9.53],[6088,10.19],[7090,10.59],[8092,10.87],[9094,11.08],[10430,11.27],[12000,11.51]];
const w76R3b=[[4000,8.28],[4668,8.75],[4919,9.27],[5587,9.55],[6004,9.93],[6923,10.35],[8259,10.71],[9595,10.99],[10931,11.20],[12000,11.34]];
const w76R2=[[4167,8.56],[4752,9.08],[5253,9.55],[6088,10.12],[7090,10.54],[8259,10.85],[9428,11.13],[10764,11.37],[11766,11.43],[11799,11.37],[10764,11.23],[9428,11.01],[8092,10.71],[6756,10.31],[6004,9.91],[5336,9.46],[4919,9.13],[4585,8.75]];
const w76R1=loop([[5002,9.27],[5587,9.76],[6422,10.21],[7424,10.59],[8593,10.94],[10263,11.25],[10346,11.22],[9261,10.99],[7925,10.68],[6756,10.35],[6088,10.02],[5420,9.55]]);
const w76G1=[[4919,8.137],[5420,8.61],[6088,9.08],[7090,9.69],[8259,10.07],[9595,10.45],[10931,10.73],[12000,10.90]];
const w76G2=[[5086,8.137],[5587,8.61],[6255,9.08],[7257,9.65],[8426,10.02],[9762,10.42],[11098,10.68],[12000,10.85]];
const w76G3=[[5253,8.137],[5837,8.61],[6505,9.06],[7507,9.53],[8676,9.91],[10012,10.24],[11348,10.54],[11732,10.75],[11098,10.68]];
const w76G4=[[5169,8.137],[5670,8.56],[6422,9.03],[7424,9.55],[8593,9.93],[9929,10.26],[11265,10.57],[12000,10.72]];
const w76G5=[[5336,8.137],[5921,8.66],[6589,9.08],[7591,9.50],[8760,9.88],[10096,10.21],[11432,10.52],[12000,10.66]];
const w76FillV=[2.0,1.35,1.1,1.06];
const w76FillSoft=[1.2,1.2,1,1];
const w76FillS=[band(w76Up,w76Low),band(w76Up2,w76Low2),band(w76R3a,w76R3b),poly(w76R1)];
const w76Best=[8041,10.83];
const w76Labels=[[6171,10.33,'3 σ'],[5400,9.5,'2 σ'],[7925,10.61,'1 σ']];

// ---------- WASP-80 b ----------
const w80X=[5000,25000],w80Y=[8.11,11.99],w80V=[1.08,1.807];
const w80XT=[5000,10000,15000,20000,25000];
const w80YT=[[1,11],[1,10],[1,9]];
const w80CT=[1.8,1.7,1.6,1.5,1.4,1.3,1.2,1.1];
const w80Edge=[[5000,9.57],[5575,9.87],[6396,10.17],[7491,10.53],[9133,10.85],[11050,11.05],[13786,11.30],[16523,11.54],[18166,11.66],[19535,11.68],[21178,11.62],[23368,11.42],[25000,11.30]];
const w80R3=[[5000,9.45],[5575,9.77],[6396,10.11],[7491,10.48],[9133,10.80],[11050,11.02],[13786,11.27],[16523,11.49],[18166,11.61],[19535,11.63],[21178,11.57],[23368,11.40],[25000,11.27]];
const w80R2=[[5000,9.33],[5848,9.87],[6943,10.26],[8312,10.58],[10502,10.85],[12691,11.02],[15154,11.25],[17892,11.44],[19535,11.48],[21178,11.44],[23368,11.27],[25000,11.13]];
const w80R1=[[6396,9.81],[7217,10.18],[8586,10.53],[10502,10.80],[12691,10.98],[15154,11.12],[17892,11.22],[19535,11.23],[21178,11.20],[23368,11.05],[25000,10.88]];
const w80R1Fill=[[5300,8.11],[5800,9.3]].concat(w80R1);
const w80G1=[[5164,8.11],[5848,8.75],[7217,9.54],[8860,10.14],[11050,10.53],[13786,10.78],[16523,10.93],[18987,10.99],[20630,10.98],[22820,10.85],[25000,10.70]];
const w80G2=[[5356,8.11],[6122,8.75],[7491,9.49],[9133,10.09],[11323,10.43],[14060,10.70],[16797,10.85],[19261,10.89],[20904,10.88],[23094,10.75],[25000,10.60]];
const w80G3=[[5657,8.11],[6533,8.75],[7902,9.49],[9544,10.06],[11870,10.38],[14881,10.63],[17618,10.73],[19535,10.72],[21178,10.69],[23368,10.53],[25000,10.41]];
const w80FillV=[1.5,1.27,1.15,1.108,1.128];
const w80FillSoft=[1,3,4,5,5];
const w80FillS=[under(w80Edge),under(w80R2),under(w80R1Fill),band(w80R1Fill,w80G1),under(w80G2)];
const w80White=[[5000,11.89,5500,11.99],[6500,11.89,7500,11.99],[8000,11.89,9500,11.99],[5500,11.68,6500,11.89],[5500,11.17,6000,11.68],[5000,10.46,5500,11.78],[9500,11.27,10500,11.47],[6500,10.96,7500,11.17]];
const w80Yellow=[[13458,8.11,14470,8.29]];
const w80GraySpots=[[14470,8.44,15565,8.64],[11459,8.11,12500,8.27],[22462,8.17,23557,8.36],[23503,8.36,25100,8.54]];
const w80Best=[5712,9.07];
const w80Labels=[[18700,11.62,'3 σ'],[9625,10.71,'2 σ'],[5790,9.42,'1 σ'],[14000,8.32,'1 σ']];

// ---------- figure registry ----------
const panels=[
{title:'55Cnc e',xlim:cncX,ylim:cncY,vr:cncV,xt:cncXT,yt:cncYT,ct:cncCT,bg:2.285,fv:cncFillV,fsoft:cncFillSoft,fs:cncFillS,red:[cncR3,cncR2,cncR1],gray:[cncG1,cncG2,cncG3],best:cncBest,labels:cncLabels},
{title:'AUMic b',xlim:aumX,ylim:aumY,vr:aumV,xt:aumXT,yt:aumYT,ct:aumCT,bg:1.26,fv:aumFillV,fsoft:aumFillSoft,fs:aumFillS,red:[aumR3,aumR2,aumR1],gray:[aumG3,aumG2,aumG1],whites:aumWhite,best:aumBest,labels:aumLabels},
{title:'Gj1214 b',xlim:g12X,ylim:g12Y,vr:g12V,xt:g12XT,yt:g12YT,ct:g12CT,bg:1.18,fv:g12FillV,fsoft:g12FillSoft,fs:g12FillS,red:[g12R3,g12R2,g12R1],gray:[g12GA,g12GB,g12GC],whites:g12White,labels:g12Labels},
{title:'Gj3470 b',xlim:g34X,ylim:g34Y,vr:g34V,xt:g34XT,yt:g34YT,ct:g34CT,bg:2.64,fv:g34FillV,fsoft:g34FillSoft,fs:g34FillS,red:[g34R3,g34R2,g34R1],gray:[g34G1,g34G2,g34G2b,g34G3,g34G4,g34G5],whites:g34White,rings:g34Rings,ringColor:'#3fbc73',ringFill:'#fde725',best:g34Best,labels:g34Labels},
{title:'Gj436 b',xlim:g43X,ylim:g43Y,vr:g43V,xt:g43XT,yt:g43YT,ct:g43CT,bg:1.08,fv:g43FillV,fsoft:g43FillSoft,fs:g43FillS,red:[g43Red1,g43Red2,g43Red3,g43Red4,g43Red5,g43Red6,g43Red7,g43Red8,g43Red9,g43Red10,g43Red11,g43Red12,g43Red13,g43Red14,g43Red15],gray:[g43Gr1,g43Gr2,g43Gr3,g43Gr4,g43Gr5,g43Gr6,g43Gr7,g43Gr8,g43Gr9,g43Gr10,g43Gr11,g43Gr12,g43Gr13,g43Gr14,g43Gr15],whites:g43White,best:g43Best,labels:g43Labels},
{title:'Gj486 b',xlim:g48X,ylim:g48Y,vr:g48V,xt:g48XT,yt:g48YT,ct:g48CT,bg:1.723,fv:g48FillV,fsoft:g48FillSoft,fs:g48FillS,red:[g48R3,g48R2,g48R1],gray:[g48G1,g48G2,g48G3],best:g48Best,labels:g48Labels},
{title:'HAT-P-11 b',xlim:hatX,ylim:hatY,vr:hatV,xt:hatXT,yt:hatYT,ct:hatCT,bg:14.73,fv:hatFillV,fsoft:hatFillSoft,fs:hatFillS,red:[hatR3,hatR2,hatR1],gray:[hatG3,hatG2,hatG1],best:hatBest,labels:hatLabels,ylabelX:16},
{title:'HD189733 b',xlim:h18X,ylim:h18Y,vr:h18V,xt:h18XT,yt:h18YT,ct:h18CT,bg:14.03,fv:h18FillV,fsoft:h18FillSoft,fs:h18FillS,red:[h18R3,h18R2,h18R1],gray:[h18G1,h18G2,h18G2b,h18G3,h18G4],best:h18Best,labels:h18Labels},
{title:'HD209458 b',xlim:h20X,ylim:h20Y,vr:h20V,xt:h20XT,yt:h20YT,ct:h20CT,bg:4.433,fv:h20FillV,fsoft:h20FillSoft,fs:h20FillS,red:[h20R3a,h20R3b,h20R3c,h20R2a,h20R2b,h20R2c,h20R1,h20R1b],gray:[h20G1,h20G2,h20G3,h20G4,h20G5,h20G6],best:h20Best,labels:h20Labels},
{title:'K2-25 b',xlim:k2X,ylim:k2Y,vr:k2V,xt:k2XT,yt:k2YT,ct:k2CT,bg:1.125,fv:k2FillV,fsoft:k2FillSoft,fs:k2FillS,red:[k2RedEdge,k2RedEdge2,k2RedBits,k2RedBits2],gray:[k2G1,k2G2,k2G3,k2G4,k2G5,k2G6],whites:k2White,whitePolys:[k2WhitePoly],rings:k2GraySpots},
{title:'TOI-1807 b',xlim:toiX,ylim:toiY,vr:toiV,xt:toiXT,yt:toiYT,ct:toiCT,bg:1.876,fv:toiFillV,fsoft:toiFillSoft,fs:toiFillS,red:[toiR3,toiR2,toiR1],gray:[toiG1,toiG2],best:toiBest,labels:toiLabels},
{title:'WASP-127 b',xlim:w12X,ylim:w12Y,vr:w12V,xt:w12XT,yt:w12YT,ct:w12CT,bg:1.844,fv:w12FillV,fsoft:w12FillSoft,fs:w12FillS,red:[w12R3,w12R2,w12R2b,w12R1],gray:[w12G1,w12G2,w12Loop],yellows:w12Yellow,rings:w12GraySpots,labels:w12Labels},
{title:'WASP-69 b',xlim:w69X,ylim:w69Y,vr:w69V,xt:w69XT,yt:w69YT,ct:w69CT,bg:4.93,fv:w69FillV,fsoft:w69FillSoft,fs:w69FillS,red:[w69R3,w69R2,w69R1],gray:[w69G3,w69G2,w69G1],whites:w69White,best:w69Best,labels:w69Labels},
{title:'WASP-76 b',xlim:w76X,ylim:w76Y,vr:w76V,xt:w76XT,yt:w76YT,ct:w76CT,bg:2.65,fv:w76FillV,fsoft:w76FillSoft,fs:w76FillS,red:[w76R3a,w76R3b,w76R2,w76R1],gray:[w76G1,w76G2,w76G3,w76G4,w76G5],best:w76Best,labels:w76Labels},
{title:'WASP-80 b',xlim:w80X,ylim:w80Y,vr:w80V,xt:w80XT,yt:w80YT,ct:w80CT,bg:1.807,fv:w80FillV,fsoft:w80FillSoft,fs:w80FillS,red:[w80R3,w80R2,w80R1],gray:[w80G1,w80G2,w80G3],whites:w80White,yellows:w80Yellow,rings:w80GraySpots,best:w80Best,labels:w80Labels}
];

// ---------- rendering ----------
const NS='http://www.w3.org/2000/svg';
const fig=document.getElementById('fig');
const VIR=['#440154','#482475','#414487','#355f8d','#2a788e','#21918c','#22a884','#44bf70','#7ad151','#bddf26','#fde725'];
const colX=[92,492.4,892.8], rowY=[24,369.7,715,1060,1405];
const AW=244.6, AH=262, CBX=259.7, CBW=13.4, FM=60;

function mk(tag,attrs,name,parent){
  const el=document.createElementNS(NS,tag);
  for(const k in attrs){el.setAttribute(k,attrs[k]);}
  
  
  parent.appendChild(el);
  return el;
}
function hex(c){return [parseInt(c.slice(1,3),16),parseInt(c.slice(3,5),16),parseInt(c.slice(5,7),16)];}
function viridis(t){
  t=Math.max(0,Math.min(1,t))*10;
  const i=Math.min(9,Math.floor(t)),f=t-i,a=hex(VIR[i]),b=hex(VIR[i+1]);
  return 'rgb('+a.map(function(v,j){return Math.round(v+(b[j]-v)*f);}).join(',')+')';
}
function smooth(pts){
  if(pts.length<2){return '';}
  let d='M'+pts[0][0].toFixed(1)+' '+pts[0][1].toFixed(1);
  for(let i=0;i<pts.length-1;i++){
    const p0=pts[i-1]||pts[i],p1=pts[i],p2=pts[i+1],p3=pts[i+2]||p2;
    const c1x=p1[0]+(p2[0]-p0[0])/6,c1y=p1[1]+(p2[1]-p0[1])/6;
    const c2x=p2[0]-(p3[0]-p1[0])/6,c2y=p2[1]-(p3[1]-p1[1])/6;
    d+=' C'+c1x.toFixed(1)+' '+c1y.toFixed(1)+' '+c2x.toFixed(1)+' '+c2y.toFixed(1)+' '+p2[0].toFixed(1)+' '+p2[1].toFixed(1);
  }
  return d;
}

// colorbar gradient
const defs=mk('defs',{},'figure-defs',fig);
const grad=mk('linearGradient',{id:'viridis-grad',x1:0,y1:1,x2:0,y2:0},'viridis-gradient',defs);
VIR.forEach(function(c,i){
  mk('stop',{offset:(i*10)+'%','stop-color':c},'viridis-stop',grad);
});

panels.forEach(function(p,idx){
  const ax=colX[idx%3], ay=rowY[Math.floor(idx/3)];
  const slug=p.title.toLowerCase().replace(/[^a-z0-9]+/g,'-');
  const sx=function(T){return ax+(T-p.xlim[0])/(p.xlim[1]-p.xlim[0])*AW;};
  const sy=function(L){return ay+AH-(L-p.ylim[0])/(p.ylim[1]-p.ylim[0])*AH;};
  const dx=(p.xlim[1]-p.xlim[0]), dy=(p.ylim[1]-p.ylim[0]);
  const padX=dx*0.25, padY=dy*0.25;
  const vc=function(v){return viridis((v-p.vr[0])/(p.vr[1]-p.vr[0]));};

  const g=mk('g',{},'panel-'+slug,fig);
  const cp=mk('clipPath',{id:'clip'+idx},'axes-clip',g);
  mk('rect',{x:ax,y:ay,width:AW,height:AH},'axes-clip-rect',cp);

  const filters={};
  function softFilter(s){
    const id='soft'+idx+'-'+String(s).replace('.','_');
    if(!filters[id]){
      const flt=mk('filter',{id:id,filterUnits:'userSpaceOnUse',x:ax-FM,y:ay-FM,width:AW+2*FM,height:AH+2*FM,'color-interpolation-filters':'sRGB'},'field-blur',g);
      mk('feGaussianBlur',{stdDeviation:s},'field-blur-kernel',flt);
      filters[id]=1;
    }
    return 'url(#'+id+')';
  }

  const plot=mk('g',{'clip-path':'url(#clip'+idx+')'},'plot-area',g);
  const field=mk('g',{},'heatmap',plot);
  mk('rect',{x:ax-FM,y:ay-FM,width:AW+2*FM,height:AH+2*FM,fill:vc(p.bg)},'heatmap-background',field);

  // Extend a curve past the axes along its end segments so smoothing stays straight at the frame
  function padded(pts,dT){
    const eX=dx*0.02,eY=dy*0.02,out=[];
    const n=pts.length,a=pts[0],a2=pts[1],b=pts[n-1],b2=pts[n-2];
    const ax0=a[0]+dT+(a[0]-a2[0])*0.6, ay0=a[1]+(a[1]-a2[1])*0.6;
    const bx0=b[0]+dT+(b[0]-b2[0])*0.6, by0=b[1]+(b[1]-b2[1])*0.6;
    if(a[0]-p.xlim[0]<=eX){out.push([p.xlim[0]-padX,ay0]);out.push([ax0,ay0]);}
    else if(a[1]-p.ylim[0]<=eY){out.push([ax0,p.ylim[0]-padY]);out.push([ax0,ay0]);}
    pts.forEach(function(q){out.push([q[0]+dT,q[1]]);});
    if(p.xlim[1]-b[0]<=eX){out.push([bx0,by0]);out.push([p.xlim[1]+padX,by0]);}
    else if(p.ylim[1]-b[1]<=eY){out.push([bx0,by0]);out.push([bx0,p.ylim[1]+padY]);}
    return out;
  }
  function shapePoints(s){
    if(s.mode==='poly'){return s.pts;}
    if(s.mode==='band'){return padded(s.pts,0).concat(padded(s.pts2,0).reverse());}
    const c=padded(s.pts,s.dT),f=c[0],l=c[c.length-1];
    const top=p.ylim[1]+padY,bot=p.ylim[0]-padY,lft=p.xlim[0]-padX,rgt=p.xlim[1]+padX;
    if(s.mode==='under'){return c.concat([[rgt,l[1]],[rgt,bot],[f[0],bot]]);}
    return c.concat([[l[0],top],[lft,top],[lft,bot],[f[0],bot]]);
  }
  p.fs.forEach(function(s,i){
    const px=shapePoints(s).map(function(q){return [sx(q[0]),sy(q[1])];});
    mk('path',{d:smooth(px)+' Z',fill:vc(p.fv[i]),filter:softFilter(p.fsoft[i])},'heatmap-level',field);
  });

  (p.whites||[]).forEach(function(w){
    mk('rect',{x:sx(w[0]),y:sy(w[3]),width:sx(w[2])-sx(w[0]),height:sy(w[1])-sy(w[3]),fill:'#fff'},'missing-data-cell',plot);
  });
  (p.whitePolys||[]).forEach(function(wp){
    const pts=wp.map(function(q){return sx(q[0]).toFixed(1)+','+sy(q[1]).toFixed(1);}).join(' ');
    mk('polygon',{points:pts,fill:'#fff'},'missing-data-region',plot);
  });
  (p.yellows||[]).forEach(function(w){
    mk('rect',{x:sx(w[0]),y:sy(w[3]),width:sx(w[2])-sx(w[0]),height:sy(w[1])-sy(w[3]),fill:'#fde725',stroke:'#f00','stroke-width':1.6,rx:1.5},'high-value-cell',plot);
  });
  (p.gray||[]).forEach(function(c){
    const px=c.map(function(q){return [sx(q[0]),sy(q[1])];});
    mk('path',{d:smooth(px),fill:'none',stroke:'#808080','stroke-width':1.5},'gray-contour',plot);
  });
  (p.rings||[]).forEach(function(w){
    mk('rect',{x:sx(w[0]),y:sy(w[3]),width:sx(w[2])-sx(w[0]),height:sy(w[1])-sy(w[3]),fill:p.ringFill||'none',stroke:p.ringColor||'#808080','stroke-width':p.ringColor?2.4:1.8,rx:p.ringColor?6:3},'contour-ring',plot);
  });
  (p.red||[]).forEach(function(c){
    const px=c.map(function(q){return [sx(q[0]),sy(q[1])];});
    mk('path',{d:smooth(px),fill:'none',stroke:'#f00','stroke-width':1.5},'red-contour',plot);
  });
  (p.labels||[]).forEach(function(l){
    const t=mk('text',{x:sx(l[0]),y:sy(l[1])+2,'text-anchor':'middle','font-size':5.5,opacity:0.6,style:'fill:#c01818'},'contour-label',plot);
    t.textContent=l[2];
  });
  if(p.best){
    const bx=sx(p.best[0]),by=sy(p.best[1]);
    const m=mk('g',{},'best-fit-marker',plot);
    mk('line',{x1:bx-7,x2:bx+7,y1:by,y2:by,stroke:'#f00','stroke-width':1.6},'best-fit-marker-h',m);
    mk('line',{x1:bx,x2:bx,y1:by-7,y2:by+7,stroke:'#f00','stroke-width':1.6},'best-fit-marker-v',m);
  }

  // axes frame
  mk('rect',{x:ax,y:ay,width:AW,height:AH,fill:'none',stroke:'#2a2a2a','stroke-width':1.1},'axes-frame',g);

  // x ticks
  p.xt.forEach(function(T){
    const x=sx(T);
    mk('line',{x1:x,x2:x,y1:ay+AH,y2:ay+AH+4.8,stroke:'#2a2a2a','stroke-width':1},'x-tick',g);
    const t=mk('text',{x:x,y:ay+AH+21.3,'text-anchor':'middle','font-size':13.7},'x-tick-label',g);
    t.textContent=String(T);
  });
  // y minor + major ticks
  const major={};
  p.yt.forEach(function(tk){major[(tk[1]+Math.log10(tk[0])).toFixed(4)]=1;});
  for(let e=Math.floor(p.ylim[0]);e<=Math.ceil(p.ylim[1]);e++){
    for(let k=1;k<=9;k++){
      const L=e+Math.log10(k);
      if(L<p.ylim[0]-1e-6||L>p.ylim[1]+1e-6||major[L.toFixed(4)]){continue;}
      mk('line',{x1:ax-2.8,x2:ax,y1:sy(L),y2:sy(L),stroke:'#2a2a2a','stroke-width':0.8},'y-minor-tick',g);
    }
  }
  p.yt.forEach(function(tk){
    const L=tk[1]+Math.log10(tk[0]),y=sy(L);
    mk('line',{x1:ax-4.8,x2:ax,y1:y,y2:y,stroke:'#2a2a2a','stroke-width':1},'y-tick',g);
    const t=mk('text',{x:ax-7,y:y+6.4,'text-anchor':'end','font-size':13.7},'y-tick-label',g);
    const base=mk('tspan',{},'y-tick-base',t);
    base.textContent=(tk[0]===1?'':tk[0]+' × ')+'10';
    const sup=mk('tspan',{dy:-5.6,'font-size':9.6},'y-tick-exponent',t);
    sup.textContent=String(tk[1]);
  });

  // title and axis labels
  const ttl=mk('text',{x:ax+AW/2,y:ay-7.8,'text-anchor':'middle','font-size':16.5},'panel-title',g);
  ttl.textContent=p.title;
  const xl=mk('text',{x:ax+AW/2,y:ay+AH+40,'text-anchor':'middle','font-size':13.7},'x-axis-title',g);
  xl.textContent='T [K]';
  const ylx=(ax-92)+(p.ylabelX||40);
  const yl=mk('text',{x:ylx,y:ay+AH/2,'text-anchor':'middle','font-size':13.7,transform:'rotate(-90 '+ylx+' '+(ay+AH/2)+')'},'y-axis-title',g);
  const md=mk('tspan',{'font-style':'italic'},'y-axis-title-symbol',yl);
  md.textContent='ṁ';
  const un=mk('tspan',{},'y-axis-title-unit',yl);
  un.textContent=' [g/s]';

  // colorbar
  const cx=ax+CBX;
  const cb=mk('g',{},'colorbar',g);
  mk('rect',{x:cx,y:ay,width:CBW,height:AH,fill:'url(#viridis-grad)',stroke:'#2a2a2a','stroke-width':1.1},'colorbar-ramp',cb);
  const allInt=p.ct.every(function(v){return Number.isInteger(v);});
  p.ct.forEach(function(v){
    const y=ay+AH-(v-p.vr[0])/(p.vr[1]-p.vr[0])*AH;
    mk('line',{x1:cx+CBW,x2:cx+CBW+4.8,y1:y,y2:y,stroke:'#2a2a2a','stroke-width':1},'colorbar-tick',cb);
    const t=mk('text',{x:cx+CBW+11.5,y:y+5.2,'font-size':13.7},'colorbar-tick-label',cb);
    t.textContent=allInt?String(v):v.toFixed(1);
  });
});
</script>
</body>
</html>
